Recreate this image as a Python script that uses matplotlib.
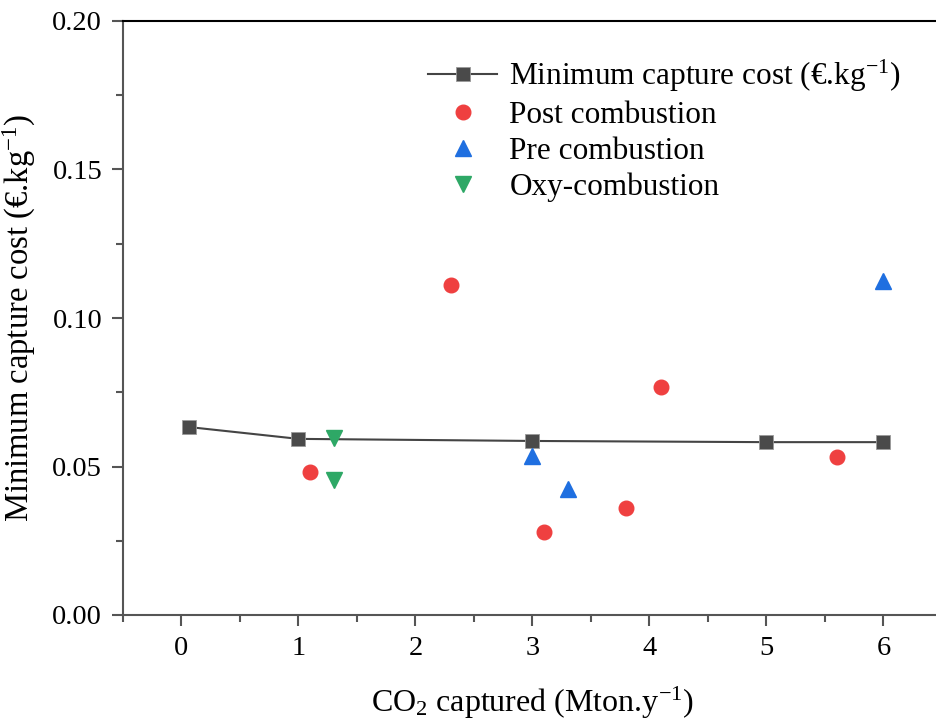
import numpy as np
import matplotlib
matplotlib.use('Agg')
import matplotlib.pyplot as plt
from matplotlib.ticker import MultipleLocator

# minimum capture cost curve
min_x = [0.06, 1.0, 3.0, 5.0, 6.0]
min_y = [0.0633, 0.0593, 0.0586, 0.0582, 0.0582]
# technologies
post_x = [1.1, 2.3, 3.1, 3.8, 4.1, 5.6]
post_y = [0.0481, 0.111, 0.028, 0.036, 0.0768, 0.0532]
pre_x = [3.0, 3.3, 6.0]
pre_y = [0.0535, 0.0425, 0.1125]
oxy_x = [1.3, 1.3]
oxy_y = [0.0596, 0.0455]

plt.rcParams['font.family'] = ['Liberation Serif', 'DejaVu Serif']
plt.rcParams['mathtext.fontset'] = 'custom'
plt.rcParams['mathtext.rm'] = 'Liberation Serif'
plt.rcParams['mathtext.it'] = 'Liberation Serif:italic'

fig = plt.figure(figsize=(9.37, 7.25), dpi=100)
ax = fig.add_axes([123 / 937, 1 - 615 / 725, (942 - 123) / 937, (615 - 21) / 725])

ax.plot(min_x, min_y, '-s', color='#444444', lw=1.5, ms=9.5, mfc='#4a4a4a', mec='#9a9a9a', mew=0.6,
        label='Minimum capture cost (€.kg$^{\\rm{-1}}$)', zorder=3)
ax.plot(post_x, post_y, 'o', ls='none', color='#ef4040', ms=10.5, label='Post combustion', zorder=4)
ax.plot(pre_x, pre_y, '^', ls='none', color='#1f6fe0', ms=11, label='Pre combustion', zorder=4)
ax.plot(oxy_x, oxy_y, 'v', ls='none', color='#2ea866', ms=11, label='Oxy-combustion', zorder=4)

ax.set_xlim(-0.5, 6.5)
ax.set_ylim(0, 0.2)
ax.xaxis.set_major_locator(MultipleLocator(1))
ax.xaxis.set_minor_locator(MultipleLocator(0.5))
ax.yaxis.set_major_locator(MultipleLocator(0.05))
ax.yaxis.set_minor_locator(MultipleLocator(0.025))
ax.yaxis.set_major_formatter(matplotlib.ticker.FormatStrFormatter('%.2f'))

for s in ['left', 'bottom']:
    ax.spines[s].set_color('#555555')
    ax.spines[s].set_linewidth(1.5)
ax.spines['top'].set_color('black')
ax.spines['top'].set_linewidth(1.5)
ax.spines['right'].set_visible(False)

ax.tick_params(which='major', direction='out', length=8, width=1.5, color='#555555',
               labelsize=20.5, pad=7, top=False, right=False)
ax.tick_params(which='minor', direction='out', length=5, width=1.5, color='#555555', top=False, right=False)

ax.set_xlabel('CO$_{\\rm{2}}$ captured (Mton.y$^{\\rm{-1}}$)', fontsize=23, labelpad=17)
ax.set_ylabel('Minimum capture cost (€.kg$^{\\rm{-1}}$)', fontsize=23.5, labelpad=10)

ax.legend(loc='upper right', bbox_to_anchor=(0.99 * (937 - 123) / (942 - 123), 0.985), frameon=False,
          fontsize=22.5, handlelength=2.2, handletextpad=0.4, labelspacing=0.22)

fig.savefig('out.png', dpi=100)
